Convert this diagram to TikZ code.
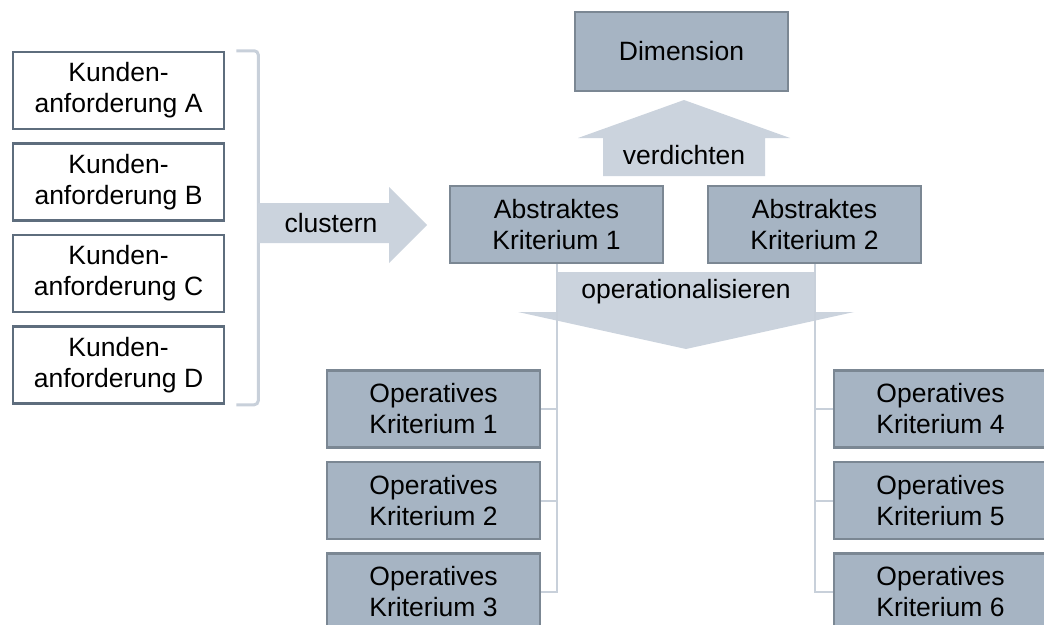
\documentclass[tikz,border=0pt]{standalone}
\usepackage{fontspec}
\setmainfont{Liberation Sans}
\usetikzlibrary{positioning}

\definecolor{critfill}{HTML}{A6B4C3}
\definecolor{critline}{HTML}{7B8793}
\definecolor{reqline}{HTML}{5E6D7D}
\definecolor{flowfill}{HTML}{CBD3DD}
\definecolor{linkgray}{HTML}{C8D0DA}

\begin{document}
\begin{tikzpicture}[x=1pt, y=-1pt,
      every node/.style={font=\fontsize{26.5}{31}\selectfont},
      req/.style={draw=reqline, fill=white, line width=2.5pt,
                  minimum width=211pt, minimum height=77pt, align=center},
      crit/.style={draw=critline, fill=critfill, line width=2.5pt,
                  minimum width=213pt, minimum height=77pt, align=center},
      flow/.style={fill=flowfill},
      link/.style={draw=linkgray, line width=2pt},
      brace/.style={draw=linkgray, line width=3pt, rounded corners=4pt}]

    \useasboundingbox (0,0) rectangle (1044,624);

    % ---- Left: customer requirements ----
    \node[req] (kA) at (118.5,90.5) {Kunden-\\anforderung A};
    \node[req, below=12pt of kA] (kB) {Kunden-\\anforderung B};
    \node[req, below=12pt of kB] (kC) {Kunden-\\anforderung C};
    \node[req, below=12pt of kC] (kD) {Kunden-\\anforderung D};

    \draw[brace] ([xshift=11pt]kA.north east) -- ++(22,0)
        -- ([xshift=33pt]kD.south east) -- ([xshift=11pt]kD.south east);

    % clustern: block arrow to the right
    \fill[flow] (258,203) -- (389,203) -- (389,187) -- (427,225)
        -- (389,263) -- (389,243) -- (258,243) -- cycle;
    \node (clu) at (331,223) {clustern};

    % ---- Top: dimension + abstract criteria ----
    \node[crit, minimum height=79pt] (dim) at (681.5,51.5) {Dimension};
    \node[crit] (abs1) at (556.5,224.5) {Abstraktes\\Kriterium 1};
    \node[crit] (abs2) at (814.5,224.5) {Abstraktes\\Kriterium 2};

    % verdichten: block arrow upwards
    \fill[flow] (603,176) -- (603,138) -- (578,138) -- (684,100)
        -- (790,138) -- (765,138) -- (765,176) -- cycle;
    \node (ver) at (684,155) {verdichten};

    % operationalisieren: block arrow downwards
    \fill[flow] (557,272) -- (815,272) -- (815,312) -- (854,312)
        -- (686,349) -- (518,312) -- (557,312) -- cycle;
    \node (opz) at (686,292) {operationalisieren};

    % ---- Bottom: operative criteria ----
    \node[crit] (op1) at (433.5,409) {Operatives\\Kriterium 1};
    \node[crit, below=12pt of op1] (op2) {Operatives\\Kriterium 2};
    \node[crit, below=12pt of op2] (op3) {Operatives\\Kriterium 3};
    \node[crit] (op4) at (940.5,409) {Operatives\\Kriterium 4};
    \node[crit, below=12pt of op4] (op5) {Operatives\\Kriterium 5};
    \node[crit, below=12pt of op5] (op6) {Operatives\\Kriterium 6};

    % tree lines from abstract to operative
    \draw[link] (abs1.south) |- (op3.east);
    \draw[link] (abs1.south |- op1.east) -- (op1.east);
    \draw[link] (abs1.south |- op2.east) -- (op2.east);
    \draw[link] (abs2.south) |- (op6.west);
    \draw[link] (abs2.south |- op4.west) -- (op4.west);
    \draw[link] (abs2.south |- op5.west) -- (op5.west);

\end{tikzpicture}
\end{document}
